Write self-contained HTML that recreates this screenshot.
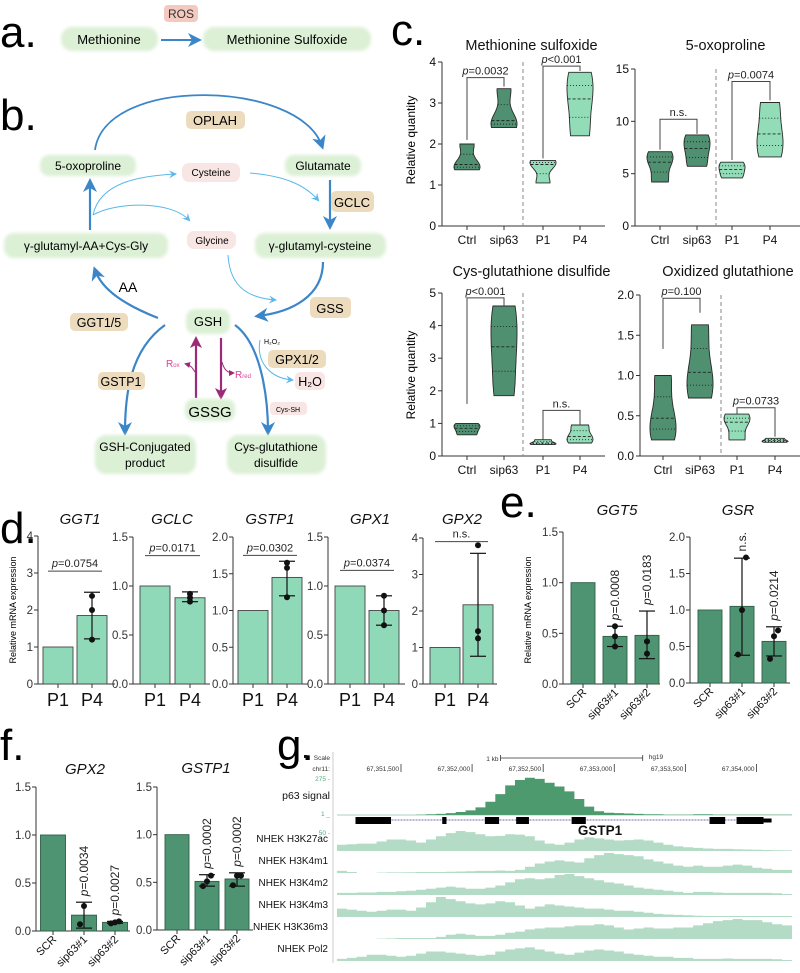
<!DOCTYPE html>
<html><head><meta charset="utf-8"><style>
html,body{margin:0;padding:0;background:#fff;}
svg{display:block;font-family:"Liberation Sans",Arial,sans-serif;}
</style></head><body>
<svg id="fig" width="800" height="973" viewBox="0 0 800 973" xmlns="http://www.w3.org/2000/svg">
<defs>
<marker id="ahB" markerWidth="8" markerHeight="8" refX="6" refY="4" orient="auto" markerUnits="userSpaceOnUse"><path d="M0,0 L8,4 L0,8 L3,4 Z" fill="#3b86c8"/></marker>
<marker id="ahBig" markerWidth="14" markerHeight="14" refX="10" refY="7" orient="auto" markerUnits="userSpaceOnUse"><path d="M0,0 L14,7 L0,14 L4,7 Z" fill="#3b86c8"/></marker>
<marker id="ahC" markerWidth="8" markerHeight="8" refX="6" refY="4" orient="auto" markerUnits="userSpaceOnUse"><path d="M0,0 L8,4 L0,8 L3,4 Z" fill="#5ab8ea"/></marker>
<marker id="ahP" markerWidth="12" markerHeight="12" refX="8" refY="6" orient="auto" markerUnits="userSpaceOnUse"><path d="M0,0 L12,6 L0,12 L3,6 Z" fill="#9b2a78"/></marker>
<marker id="ahM" markerWidth="6" markerHeight="6" refX="4" refY="3" orient="auto" markerUnits="userSpaceOnUse"><path d="M0,0 L6,3 L0,6 Z" fill="#9b2a78"/></marker>
<filter id="glow" x="-20%" y="-40%" width="140%" height="180%"><feGaussianBlur stdDeviation="1.5"/></filter>
</defs>

<!-- Panel a -->
<g>
<text x="0" y="47" font-size="44">a.</text>
<rect x="164" y="5" width="34" height="17" rx="4" fill="#f4c9bf"/>
<text x="181" y="18" font-size="12" text-anchor="middle" fill="#333">ROS</text>
<rect x="61" y="27" width="97" height="24" rx="11" fill="#dcf0d6" filter="url(#glow)"/>
<text x="109" y="44" font-size="13" text-anchor="middle">Methionine</text>
<line x1="161" y1="40" x2="198" y2="40" stroke="#3b86c8" stroke-width="2" marker-end="url(#ahBig)"/>
<rect x="203" y="27" width="168" height="24" rx="11" fill="#dcf0d6" filter="url(#glow)"/>
<text x="287" y="44" font-size="13" text-anchor="middle">Methionine Sulfoxide</text>
</g>

<!-- Panel b -->
<g font-size="12">
<text x="0" y="130" font-size="44">b.</text>
<path d="M95,150 C105,75 300,80 322,146" fill="none" stroke="#3b86c8" stroke-width="1.8" marker-end="url(#ahBig)"/>
<rect x="186" y="111" width="59" height="18" rx="5" fill="#ecdcbd"/>
<text x="215" y="125" font-size="13" text-anchor="middle">OPLAH</text>
<rect x="40" y="155" width="96" height="21" rx="9" fill="#dcf0d6" filter="url(#glow)"/>
<text x="88" y="170" font-size="12" text-anchor="middle">5-oxoproline</text>
<rect x="285" y="155" width="76" height="21" rx="9" fill="#dcf0d6" filter="url(#glow)"/>
<text x="323" y="170" font-size="12" text-anchor="middle">Glutamate</text>
<rect x="182" y="163" width="58" height="19" rx="7" fill="#f7e6e4"/>
<text x="211" y="176" font-size="10" text-anchor="middle">Cysteine</text>
<path d="M250,173 C285,176 305,185 318,200" fill="none" stroke="#5ab8ea" stroke-width="1" marker-end="url(#ahC)"/>
<line x1="330" y1="180" x2="330" y2="226" stroke="#3b86c8" stroke-width="2.2" marker-end="url(#ahBig)"/>
<rect x="331" y="191" width="43" height="21" rx="5" fill="#ecdcbd"/>
<text x="352" y="207" font-size="13" text-anchor="middle">GCLC</text>
<rect x="255" y="233" width="131" height="25" rx="10" fill="#dcf0d6" filter="url(#glow)"/>
<text x="320" y="250" font-size="12" text-anchor="middle">γ-glutamyl-cysteine</text>
<rect x="4" y="233" width="164" height="25" rx="10" fill="#dcf0d6" filter="url(#glow)"/>
<text x="86" y="250" font-size="12" text-anchor="middle">γ-glutamyl-AA+Cys-Gly</text>
<rect x="187" y="231" width="49" height="18" rx="7" fill="#f7e6e4"/>
<text x="212" y="244" font-size="10" text-anchor="middle">Glycine</text>
<line x1="90" y1="230" x2="90" y2="182" stroke="#3b86c8" stroke-width="2.2" marker-end="url(#ahBig)"/>
<path d="M93,215 C100,182 140,176 175,174" fill="none" stroke="#5ab8ea" stroke-width="1" marker-end="url(#ahC)"/>
<path d="M93,215 C115,202 170,200 189,220" fill="none" stroke="#5ab8ea" stroke-width="1" marker-end="url(#ahC)"/>
<path d="M228,255 C230,290 252,298 275,300" fill="none" stroke="#5ab8ea" stroke-width="1" marker-end="url(#ahC)"/>
<path d="M323,262 C323,296 292,312 258,316" fill="none" stroke="#3b86c8" stroke-width="2.2" marker-end="url(#ahBig)"/>
<rect x="310" y="297" width="41" height="21" rx="5" fill="#ecdcbd"/>
<text x="330" y="313" font-size="13" text-anchor="middle">GSS</text>
<path d="M158,318 C125,305 102,290 95,270" fill="none" stroke="#3b86c8" stroke-width="2.2" marker-end="url(#ahBig)"/>
<text x="128" y="292" font-size="14" text-anchor="middle">AA</text>
<rect x="70" y="313" width="58" height="18" rx="5" fill="#ecdcbd"/>
<text x="99" y="327" font-size="12.5" text-anchor="middle">GGT1/5</text>
<rect x="186" y="309" width="44" height="25" rx="9" fill="#dcf0d6" filter="url(#glow)"/>
<text x="208" y="326" font-size="13" text-anchor="middle">GSH</text>
<path d="M165,325 C130,350 125,395 125,432" fill="none" stroke="#3b86c8" stroke-width="2.2" marker-end="url(#ahBig)"/>
<path d="M235,325 C262,345 268,400 268,432" fill="none" stroke="#3b86c8" stroke-width="2.2" marker-end="url(#ahBig)"/>
<path d="M260,340 C256,362 270,378 292,380" fill="none" stroke="#5ab8ea" stroke-width="1" marker-end="url(#ahC)"/>
<text x="264" y="344" font-size="7">H₂O₂</text>
<rect x="268" y="350" width="58" height="18" rx="5" fill="#ecdcbd"/>
<text x="297" y="364" font-size="12.5" text-anchor="middle">GPX1/2</text>
<rect x="295" y="372" width="30" height="18" rx="5" fill="#f7e6e4"/>
<text x="310" y="386" font-size="12.5" text-anchor="middle">H₂O</text>
<rect x="98" y="372" width="47" height="18" rx="5" fill="#ecdcbd"/>
<text x="121" y="386" font-size="12.5" text-anchor="middle">GSTP1</text>
<line x1="196" y1="398" x2="196" y2="340" stroke="#9b2a78" stroke-width="2.2" marker-end="url(#ahP)"/>
<line x1="221" y1="338" x2="221" y2="396" stroke="#9b2a78" stroke-width="2.2" marker-end="url(#ahP)"/>
<path d="M195,372 C192,367 190,365 186,364" fill="none" stroke="#9b2a78" stroke-width="1" marker-end="url(#ahM)"/>
<path d="M222,362 C224,370 228,373 233,373" fill="none" stroke="#9b2a78" stroke-width="1" marker-end="url(#ahM)"/>
<text x="166" y="367" font-size="10" fill="#e0409a">R<tspan font-size="6">ox</tspan></text>
<text x="235" y="378" font-size="10" fill="#e0409a">R<tspan font-size="6">red</tspan></text>
<rect x="185" y="399" width="50" height="22" rx="8" fill="#dcf0d6" filter="url(#glow)"/>
<text x="210" y="417" font-size="15" text-anchor="middle">GSSG</text>
<rect x="270" y="402" width="37" height="13" rx="4" fill="#f7e6e4"/>
<text x="288" y="412" font-size="7" text-anchor="middle">Cys-SH</text>
<rect x="95" y="435" width="101" height="39" rx="11" fill="#dcf0d6" filter="url(#glow)"/>
<text x="145" y="451" font-size="12" text-anchor="middle">GSH-Conjugated</text>
<text x="145" y="467" font-size="12" text-anchor="middle">product</text>
<rect x="227" y="435" width="99" height="39" rx="11" fill="#dcf0d6" filter="url(#glow)"/>
<text x="276" y="451" font-size="12" text-anchor="middle">Cys-glutathione</text>
<text x="276" y="467" font-size="12" text-anchor="middle">disulfide</text>
</g>

<text x="391" y="45" font-size="44">c.</text>
<text x="0" y="543" font-size="44">d.</text>
<text x="500" y="517" font-size="44">e.</text>
<text x="0" y="760" font-size="44">f.</text>
<text x="277" y="760" font-size="44">g.</text>
<text x="415" y="140" font-size="12" text-anchor="middle" transform="rotate(-90 415 140)">Relative quantity</text>
<text x="415" y="375" font-size="12" text-anchor="middle" transform="rotate(-90 415 375)">Relative quantity</text>
<text x="16" y="610" font-size="9" text-anchor="middle" transform="rotate(-90 16 610)">Relative mRNA expression</text>
<text x="531" y="610" font-size="9" text-anchor="middle" transform="rotate(-90 531 610)">Relative mRNA expression</text>
</svg>
<script>
// ---------- Panel c data ----------
const vioCats1 = ['Ctrl','sip63','P1','P4'];
const vioCats4 = ['Ctrl','siP63','P1','P4'];
const metSulfPts = [[1.37,1.5,2.0],[2.4,2.57,3.35],[1.05,1.5,1.6],[2.2,3.1,3.75]];
const oxoPts = [[4.2,6.1,7.1],[5.7,7.4,8.7],[4.6,5.4,6.1],[6.6,8.8,11.8]];
const cysGsPts = [[0.65,0.85,1.0],[1.85,3.35,4.6],[0.35,0.4,0.5],[0.4,0.6,0.95]];
const oxGshPts = [[0.2,0.47,1.0],[0.72,1.04,1.63],[0.2,0.42,0.52],[0.17,0.19,0.22]];
const metSulfTicks = [0,1,2,3,4];
const oxoTicks = [0,5,10,15];
const cysGsTicks = [0,1,2,3,4,5];
const oxGshTicks = ['0.0','0.5','1.0','1.5','2.0'];
const metSulfSig = [[0,1,3.62,2.1,3.4,'=0.0032'],[2,3,3.9,1.65,3.78,'<0.001']];
const oxoSig = [[0,1,10.2,7.3,8.8,'n.s.'],[2,3,13.8,6.3,12.0,'=0.0074']];
const cysGsSig = [[0,1,4.85,1.6,4.62,'<0.001'],[2,3,1.4,0.5,0.95,'n.s.']];
const oxGshSig = [[0,1,1.96,1.33,1.78,'=0.100'],[2,3,0.6,0.52,0.24,'=0.0733']];

// ---------- Panel d data ----------
const dCats = ['P1','P4'];
const ggt1Vals = [1,1.85]; const ggt1Pts = [1.2,2.0,2.38]; const ggt1Err = [1.22,2.48];
const gclcVals = [1,0.88]; const gclcPts = [0.84,0.88,0.92]; const gclcErr = [0.84,0.94];
const gstp1Vals = [1,1.45]; const gstp1Pts = [1.18,1.58,1.65]; const gstp1Err = [1.2,1.67];
const gpx1Vals = [1,0.75]; const gpx1Pts = [0.6,0.75,0.9]; const gpx1Err = [0.6,0.9];
const gpx2Vals = [1,2.17]; const gpx2Pts = [1.25,1.45,3.8]; const gpx2Err = [0.76,3.58];
const ggt1Ticks=['0','1','2','3','4']; const gclcTicks=['0.0','0.5','1.0','1.5'];
const gstp1Ticks=['0.0','0.5','1.0','1.5','2.0']; const gpx2Ticks=['0','1','2','3','4'];
// ---------- Panel e/f data ----------
const efCats = ['SCR','sip63#1','sip63#2'];
const ggt5Vals = [1,0.47,0.48]; const ggt5Pts = [[],[0.37,0.47,0.57],[0.3,0.42,0.42]]; const ggt5ErrLo=[null,0.37,0.25]; const ggt5ErrHi=[null,0.57,0.72];
const ggt5P = ['', '=0.0008', '=0.0183'];
const gsrVals = [1,1.05,0.57]; const gsrPts = [[],[0.39,1.0,1.72],[0.33,0.64,0.72]]; const gsrErrLo=[null,0.38,0.37]; const gsrErrHi=[null,1.71,0.77];
const gsrP = ['', 'n.s.', '=0.0214'];
const fGpx2Vals = [1,0.165,0.09]; const fGpx2Pts=[[],[0.07,0.26],[0.08,0.09,0.1]]; const fGpx2ErrLo=[null,0.03,0.08]; const fGpx2ErrHi=[null,0.3,0.1];
const fGpx2P = ['', '=0.0034', '=0.0027'];
const fGstp1Vals = [1,0.51,0.535]; const fGstp1Pts=[[],[0.46,0.51,0.57],[0.47,0.57,0.57]]; const fGstp1ErrLo=[null,0.46,0.46]; const fGstp1ErrHi=[null,0.58,0.6];
const fGstp1P = ['', '=0.0002', '=0.0002'];
const efTicks15 = ['0.0','0.5','1.0','1.5']; const efTicks20 = ['0.0','0.5','1.0','1.5','2.0'];
// ---------- Panel g data ----------
const coordLabels = ['67,351,500','67,352,000','67,352,500','67,353,000','67,353,500','67,354,000'];
const p63Signal = [0,0,0,0,0,0,0,0,0.01,0.02,0.03,0.05,0.08,0.12,0.2,0.35,0.55,0.78,0.92,0.98,0.95,0.85,0.75,0.62,0.42,0.22,0.1,0.06,0.05,0.04,0.03,0.02,0.02,0.01,0.01,0.01,0.02,0.02,0.01,0.01,0.01,0.01,0.01,0.01,0.01,0.01];
const trackNames = ['NHEK H3K27ac','NHEK H3K4m1','NHEK H3K4m2','NHEK H3K4m3','NHEK H3K36m3','NHEK Pol2'];
const k27ac = [.3,.32,.35,.35,.45,.55,.55,.5,.4,.55,.7,.85,.95,.9,.8,.7,.72,.8,.78,.7,.5,.35,.3,.4,.55,.65,.6,.55,.5,.52,.55,.5,.4,.3,.22,.18,.15,.12,.1,.1,.08,.07,.06,.05,.04,.03];
const k4m1 = [.1,.05,0,0,.02,.03,.03,.04,.05,.05,.05,.06,.07,.08,.1,.1,.12,.1,.15,.3,.45,.55,.6,.55,.5,.7,.85,.95,.9,.85,.8,.65,.55,.45,.35,.3,.35,.3,.3,.35,.4,.35,.25,.2,.15,.15];
const k4m2 = [.1,.1,.12,.12,.15,.15,.18,.2,.25,.3,.35,.4,.35,.3,.3,.35,.45,.6,.75,.8,.75,.8,.95,1,.9,.8,.7,.6,.55,.45,.35,.3,.25,.2,.15,.1,.15,.15,.12,.1,.1,.1,.1,.1,.08,.05];
const k4m3 = [.4,.35,.3,.25,.3,.35,.35,.3,.45,.7,.95,.85,.75,.65,.6,.65,.75,.7,.55,.4,.5,.6,.55,.5,.45,.4,.4,.35,.3,.3,.25,.2,.15,.12,.1,.08,.06,.05,.05,.05,.05,.05,.05,.05,.05,.05];
const k36m3 = [0,0,0,0,0.02,0.03,.05,.05,.05,.05,.1,.2,.25,.2,.15,.15,.2,.3,.35,.45,.5,.55,.55,.6,.65,.65,.7,.65,.55,.45,.5,.55,.5,.5,.55,.55,.65,.75,.85,.9,.95,.9,.9,.8,.7,.65];
const pol2 = [.1,.15,.2,.3,.3,.25,.2,.25,.35,.45,.45,.4,.35,.3,.25,.3,.45,.55,.6,.65,.55,.45,.35,.3,.4,.5,.55,.5,.45,.35,.3,.25,.2,.2,.15,.15,.1,.1,.1,.12,.1,.1,.1,.1,.08,.05];
const exonStarts = [67351180,67351790,67352090,67352310,67352700,67353670,67353860];
const exonEnds   = [67351430,67351820,67352190,67352400,67352800,67353780,67354050];

const NS='http://www.w3.org/2000/svg';
const svg=document.getElementById('fig');
function mk(tag, attrs, name, parent){
  const el=document.createElementNS(NS,tag);
  for(const k in attrs) el.setAttribute(k,attrs[k]);
  
  
  (parent||svg).appendChild(el);
  return el;
}
function tx(x,y,s,size,name,extra,parent){
  const a=Object.assign({x:x,y:y,'font-size':size,fill:'#111'},extra||{});
  const t=mk('text',a,name,parent); t.textContent=s; return t;
}
function ptext(x,y,s,size,name,extra,parent){
  const a=Object.assign({x:x,y:y,'font-size':size,fill:'#222'},extra||{});
  const t=mk('text',a,name,parent);
  if(s==='n.s.'){t.textContent=s;return t;}
  const i=mk('tspan',{'font-style':'italic'},'p-italic',t); i.textContent='p';
  const r=mk('tspan',{},'p-value',t); r.textContent=s;
  return t;
}
function lin(y0,yT,max){return v=>y0-(v/max)*(y0-yT);}
function quant(a,q){const s=a.slice().sort((x,y)=>x-y);const p=(s.length-1)*q;const lo=Math.floor(p),hi=Math.ceil(p);return s[lo]+(s[hi]-s[lo])*(p-lo);}

// ---------- violin chart ----------
function violinChart(o){
  const g=mk('g',{},o.name);
  const Y=lin(o.y0,o.yT,o.max);
  tx(o.ax+(o.right-o.ax)/2+8,o.titleY,o.title,14.5,o.name+'-title',{'text-anchor':'middle'},g);
  mk('line',{x1:o.ax,y1:o.yT,x2:o.ax,y2:o.y0,stroke:'#333','stroke-width':1},o.name+'-y-axis',g);
  mk('line',{x1:o.ax,y1:o.y0,x2:o.right,y2:o.y0,stroke:'#333','stroke-width':1},o.name+'-x-axis',g);
  o.ticks.forEach((t,i)=>{
    const v=parseFloat(t), y=Y(v);
    mk('line',{x1:o.ax-4,y1:y,x2:o.ax,y2:y,stroke:'#333'},o.name+'-y-tick',g);
    tx(o.ax-6,y+4,String(t),12,o.name+'-y-tick-label',{'text-anchor':'end'},g);
  });
  mk('line',{x1:o.ax+81,y1:o.yT,x2:o.ax+81,y2:o.y0,stroke:'#888','stroke-dasharray':'4,3'},o.name+'-divider',g);
  const xs=o.cats.map((c,i)=>o.ax+o.off[i]);
  o.cats.forEach((c,i)=>{
    mk('line',{x1:xs[i],y1:o.y0,x2:xs[i],y2:o.y0+4,stroke:'#333'},o.name+'-x-tick',g);
    tx(xs[i],o.y0+18,c,12,o.name+'-x-tick-label',{'text-anchor':'middle'},g);
    const pts=o.pts[i], mn=Math.min(...pts), mx=Math.max(...pts), bw=Math.max((mx-mn)*0.3,0.01);
    const N=24, dens=[];
    for(let k=0;k<=N;k++){const v=mn+(mx-mn)*k/N;let d=0;pts.forEach(p=>{d+=Math.exp(-0.5*((v-p)/bw)**2);});dens.push([v,d]);}
    const dm=Math.max(...dens.map(d=>d[1]));
    let L='',R='';
    dens.forEach((d,k)=>{const w=13*d[1]/dm;L+=(k?'L':'M')+(xs[i]-w).toFixed(1)+','+Y(d[0]).toFixed(1);});
    for(let k=N;k>=0;k--){const w=13*dens[k][1]/dm;R+='L'+(xs[i]+w).toFixed(1)+','+Y(dens[k][0]).toFixed(1);}
    const col=i<2?'#4e9070':'#93dcb8';
    mk('path',{d:L+R+'Z',fill:col,stroke:'#2a2a2a','stroke-width':0.9},o.name+'-violin-'+c,g);
    const wAt=v=>{let d=0;pts.forEach(p=>{d+=Math.exp(-0.5*((v-p)/bw)**2);});return 13*d/dm;};
    [[0.5,'3,2'],[0.25,'1,2'],[0.75,'1,2']].forEach(q=>{
      const v=quant(pts,q[0]),w=wAt(v);
      mk('line',{x1:xs[i]-w,x2:xs[i]+w,y1:Y(v),y2:Y(v),stroke:'#222','stroke-width':0.9,'stroke-dasharray':q[1]},o.name+(q[0]===0.5?'-median':'-quartile'),g);
    });
  });
  o.sig.forEach(s=>{
    const x1=xs[s[0]],x2=xs[s[1]],yt=Y(s[2]);
    mk('path',{d:`M${x1},${Y(s[3])}V${yt}H${x2}V${Y(s[4])}`,fill:'none',stroke:'#444','stroke-width':1},o.name+'-sig-bracket',g);
    ptext((x1+x2)/2,yt-3,s[5],11,o.name+'-sig-label',{'text-anchor':'middle'},g);
  });
}
violinChart({name:'chart-methionine-sulfoxide',title:'Methionine sulfoxide',titleY:50,ax:442,right:605,y0:226,yT:62,max:4,ticks:metSulfTicks,cats:vioCats1,off:[25,62,101,138],pts:metSulfPts,sig:metSulfSig});
violinChart({name:'chart-oxoproline',title:'5-oxoproline',titleY:50,ax:635,right:800,y0:226,yT:69,max:15,ticks:oxoTicks,cats:vioCats1,off:[25,62,97,135],pts:oxoPts,sig:oxoSig});
violinChart({name:'chart-cys-glutathione',title:'Cys-glutathione disulfide',titleY:276,ax:442,right:605,y0:456,yT:293,max:5,ticks:cysGsTicks,cats:vioCats1,off:[25,62,101,138],pts:cysGsPts,sig:cysGsSig});
violinChart({name:'chart-oxidized-glutathione',title:'Oxidized glutathione',titleY:276,ax:640,right:800,y0:456,yT:295,max:2,ticks:oxGshTicks,cats:vioCats4,off:[23,60,97,135],pts:oxGshPts,sig:oxGshSig});

// ---------- bar charts ----------
function barChart(o){
  const g=mk('g',{},o.name);
  const Y=lin(o.y0,o.yT,o.max);
  tx(o.titleX,o.titleY,o.title,15,o.name+'-title',{'text-anchor':'middle','font-style':'italic'},g);
  mk('line',{x1:o.ax,y1:o.yT,x2:o.ax,y2:o.y0,stroke:'#333'},o.name+'-y-axis',g);
  mk('line',{x1:o.ax,y1:o.y0,x2:o.right,y2:o.y0,stroke:'#333'},o.name+'-x-axis',g);
  o.ticks.forEach(t=>{const y=Y(parseFloat(t));
    mk('line',{x1:o.ax-4,y1:y,x2:o.ax,y2:y,stroke:'#333'},o.name+'-y-tick',g);
    tx(o.ax-5,y+4,t,11.5,o.name+'-y-tick-label',{'text-anchor':'end',fill:'#333'},g);});
  o.cats.forEach((c,i)=>{
    const cx=o.ax+o.first+i*o.step, w=o.bw;
    mk('rect',{x:cx-w/2,y:Y(o.vals[i]),width:w,height:o.y0-Y(o.vals[i]),fill:o.color,stroke:o.stroke,'stroke-width':0.9},o.name+'-bar-'+c,g);
    mk('line',{x1:cx,y1:o.y0,x2:cx,y2:o.y0+4,stroke:'#333'},o.name+'-x-tick',g);
    if(o.rot){tx(cx+4,o.y0+9,c,11,o.name+'-x-tick-label',{'text-anchor':'end',transform:`rotate(-45 ${cx+4} ${o.y0+9})`},g);}
    else tx(cx,o.y0+22,c,18,o.name+'-x-tick-label',{'text-anchor':'middle'},g);
    const pts=o.pts[i]||[];
    if(o.errLo[i]!=null){
      mk('line',{x1:cx,x2:cx,y1:Y(o.errLo[i]),y2:Y(o.errHi[i]),stroke:'#111','stroke-width':1.2},o.name+'-error-bar',g);
      [o.errLo[i],o.errHi[i]].forEach(v=>mk('line',{x1:cx-8,x2:cx+8,y1:Y(v),y2:Y(v),stroke:'#111','stroke-width':1.2},o.name+'-error-cap',g));
    }
    pts.forEach((p,k)=>mk('circle',{cx:cx+(o.jit?(k-1)*4:0),cy:Y(p),r:3,fill:'#111'},o.name+'-point',g));
    if(o.pl&&o.pl[i]){
      const top=Y(Math.max(o.errHi[i]!=null?o.errHi[i]:0,...pts))-6;
      ptext(cx+4,top,o.pl[i],12,o.name+'-p-label',{'text-anchor':'start',transform:`rotate(-90 ${cx+4} ${top})`},g);
    }
  });
  if(o.br){
    const x1=o.ax+o.first-10,x2=o.ax+o.first+o.step+10,y=Y(o.br[0]);
    mk('line',{x1:x1,x2:x2,y1:y,y2:y,stroke:'#444'},o.name+'-sig-line',g);
    ptext((x1+x2)/2,y-4,o.br[1],11,o.name+'-sig-label',{'text-anchor':'middle'},g);
  }
}
const dLight='#8fd9b8', dStroke='#444';
function dPts(pts){return [[],pts];}
barChart({name:'chart-d-ggt1',title:'GGT1',titleX:80,titleY:524,ax:38,right:115,y0:684,yT:536,max:4,ticks:ggt1Ticks,cats:dCats,first:20,step:34,bw:30,vals:ggt1Vals,pts:dPts(ggt1Pts),errLo:[null,ggt1Err[0]],errHi:[null,ggt1Err[1]],color:dLight,stroke:dStroke,br:[3.05,'=0.0754']});
barChart({name:'chart-d-gclc',title:'GCLC',titleX:172,titleY:524,ax:133,right:210,y0:684,yT:537,max:1.5,ticks:gclcTicks,cats:dCats,first:22,step:35,bw:30,vals:gclcVals,pts:dPts(gclcPts),errLo:[null,gclcErr[0]],errHi:[null,gclcErr[1]],color:dLight,stroke:dStroke,br:[1.31,'=0.0171']});
barChart({name:'chart-d-gstp1',title:'GSTP1',titleX:270,titleY:524,ax:233,right:308,y0:684,yT:537,max:2,ticks:gstp1Ticks,cats:dCats,first:20,step:34,bw:30,vals:gstp1Vals,pts:dPts(gstp1Pts),errLo:[null,gstp1Err[0]],errHi:[null,gstp1Err[1]],color:dLight,stroke:dStroke,br:[1.75,'=0.0302']});
barChart({name:'chart-d-gpx1',title:'GPX1',titleX:370,titleY:524,ax:328,right:405,y0:684,yT:537,max:1.5,ticks:gclcTicks,cats:dCats,first:22,step:34,bw:30,vals:gpx1Vals,pts:dPts(gpx1Pts),errLo:[null,gpx1Err[0]],errHi:[null,gpx1Err[1]],color:dLight,stroke:dStroke,br:[1.16,'=0.0374']});
barChart({name:'chart-d-gpx2',title:'GPX2',titleX:462,titleY:524,ax:423,right:497,y0:684,yT:538,max:4,ticks:gpx2Ticks,cats:dCats,first:22,step:33,bw:30,vals:gpx2Vals,pts:dPts(gpx2Pts),errLo:[null,gpx2Err[0]],errHi:[null,gpx2Err[1]],color:dLight,stroke:dStroke,br:[3.9,'n.s.']});
const efDark='#4f9472', efStroke='#2f5e45';
barChart({name:'chart-e-ggt5',title:'GGT5',titleX:617,titleY:515,ax:563,right:660,y0:684,yT:532,max:1.5,ticks:efTicks15,cats:efCats,first:20,step:32,bw:24,vals:ggt5Vals,pts:ggt5Pts,errLo:ggt5ErrLo,errHi:ggt5ErrHi,color:efDark,stroke:efStroke,rot:true,pl:ggt5P});
barChart({name:'chart-e-gsr',title:'GSR',titleX:738,titleY:515,ax:690,right:790,y0:683,yT:537,max:2,ticks:efTicks20,cats:efCats,first:20,step:32,bw:24,vals:gsrVals,pts:gsrPts,errLo:gsrErrLo,errHi:gsrErrHi,color:efDark,stroke:efStroke,rot:true,pl:gsrP,jit:true});
barChart({name:'chart-f-gpx2',title:'GPX2',titleX:85,titleY:774,ax:36,right:130,y0:931,yT:787,max:1.5,ticks:efTicks15,cats:efCats,first:17,step:31,bw:25,vals:fGpx2Vals,pts:fGpx2Pts,errLo:fGpx2ErrLo,errHi:fGpx2ErrHi,color:efDark,stroke:efStroke,rot:true,pl:fGpx2P,jit:true});
barChart({name:'chart-f-gstp1',title:'GSTP1',titleX:206,titleY:773,ax:157,right:253,y0:930,yT:787,max:1.5,ticks:efTicks15,cats:efCats,first:20,step:30,bw:24,vals:fGstp1Vals,pts:fGstp1Pts,errLo:fGstp1ErrLo,errHi:fGstp1ErrHi,color:efDark,stroke:efStroke,rot:true,pl:fGstp1P,jit:true});

// ---------- Panel g ----------
(function(){
  const g=mk('g',{},'genome-browser');
  const gx0=337,gx1=792,bp0=67351050,bp1=67354250;
  const X=bp=>gx0+(bp-bp0)/(bp1-bp0)*(gx1-gx0);
  mk('line',{x1:333,x2:333,y1:752,y2:963,stroke:'#ccc'},'browser-left-border',g);
  mk('rect',{x:304,y:755,width:3,height:3,fill:'#111'},'scale-square',g);
  tx(330,760,'Scale',6.5,'scale-label',{'text-anchor':'end',fill:'#333'},g);
  tx(330,771,'chr11:',6.5,'chr-label',{'text-anchor':'end',fill:'#333'},g);
  const kb0=X(67352200),kb1=X(67353200);
  mk('path',{d:`M${kb0},755V761M${kb0},758H${kb1}M${kb1},755V761`,stroke:'#333',fill:'none','stroke-width':0.8},'scale-bar',g);
  tx(kb0-2,761,'1 kb',6.5,'scale-bar-label',{'text-anchor':'end',fill:'#333'},g);
  tx(kb1+6,759,'hg19',6.5,'assembly-label',{fill:'#333'},g);
  coordLabels.forEach((c,i)=>{const bp=parseInt(c.replace(/,/g,''));const x=X(bp);
    mk('line',{x1:x,x2:x,y1:764,y2:772,stroke:'#333','stroke-width':0.8},'coord-tick',g);
    tx(x-2,771,c,6.5,'coord-label',{'text-anchor':'end',fill:'#333'},g);});
  tx(330,781,'275 -',6.5,'p63-max-label',{'text-anchor':'end',fill:'#5aa57e'},g);
  tx(330,799,'p63 signal',10.5,'p63-track-label',{'text-anchor':'end'},g);
  tx(330,816,'1 _',6.5,'p63-min-label',{'text-anchor':'end',fill:'#5aa57e'},g);
  const bw=(gx1-gx0)/p63Signal.length;
  const base=815, h=38;
  let d=`M${gx0},${base}`;
  p63Signal.forEach((v,i)=>{const y=base-v*h;d+=`V${y.toFixed(1)}H${(gx0+(i+1)*bw).toFixed(1)}`;});
  d+=`V${base}Z`;
  mk('path',{d:d,fill:'#4d9a6e'},'p63-signal-area',g);
  mk('line',{x1:gx0,x2:gx1,y1:base,y2:base,stroke:'#5aa57e','stroke-width':0.6},'p63-baseline',g);
  // gene model
  mk('line',{x1:X(exonStarts[0]),x2:X(exonEnds[6])+8,y1:820,y2:820,stroke:'#3a3a9a','stroke-width':0.8,'stroke-dasharray':'2,1'},'gene-intron-line',g);
  exonStarts.forEach((s,i)=>mk('rect',{x:X(s),y:817,width:X(exonEnds[i])-X(s),height:7,fill:'#000'},'gene-exon',g));
  mk('rect',{x:X(exonEnds[6]),y:818.5,width:8,height:4,fill:'#000'},'gene-utr',g);
  tx(600,835,'GSTP1',13.5,'gene-name',{'font-weight':'bold','text-anchor':'middle'},g);
  tx(330,835,'50 -',6.5,'histone-max-label',{'text-anchor':'end',fill:'#5aa57e'},g);
  const tracks=[k27ac,k4m1,k4m2,k4m3,k36m3,pol2];
  tracks.forEach((arr,t)=>{
    const b=851+t*22, hh=21;
    tx(328,b-9,trackNames[t],10,'track-label',{'text-anchor':'end'},g);
    const w=(gx1-gx0)/arr.length;
    let p=`M${gx0},${b}`;
    arr.forEach((v,i)=>{p+=`V${(b-v*hh).toFixed(1)}H${(gx0+(i+1)*w).toFixed(1)}`;});
    p+=`V${b}Z`;
    mk('path',{d:p,fill:'#b4dbc5'},'track-area-'+t,g);
  });
})();
</script>
</body></html>
